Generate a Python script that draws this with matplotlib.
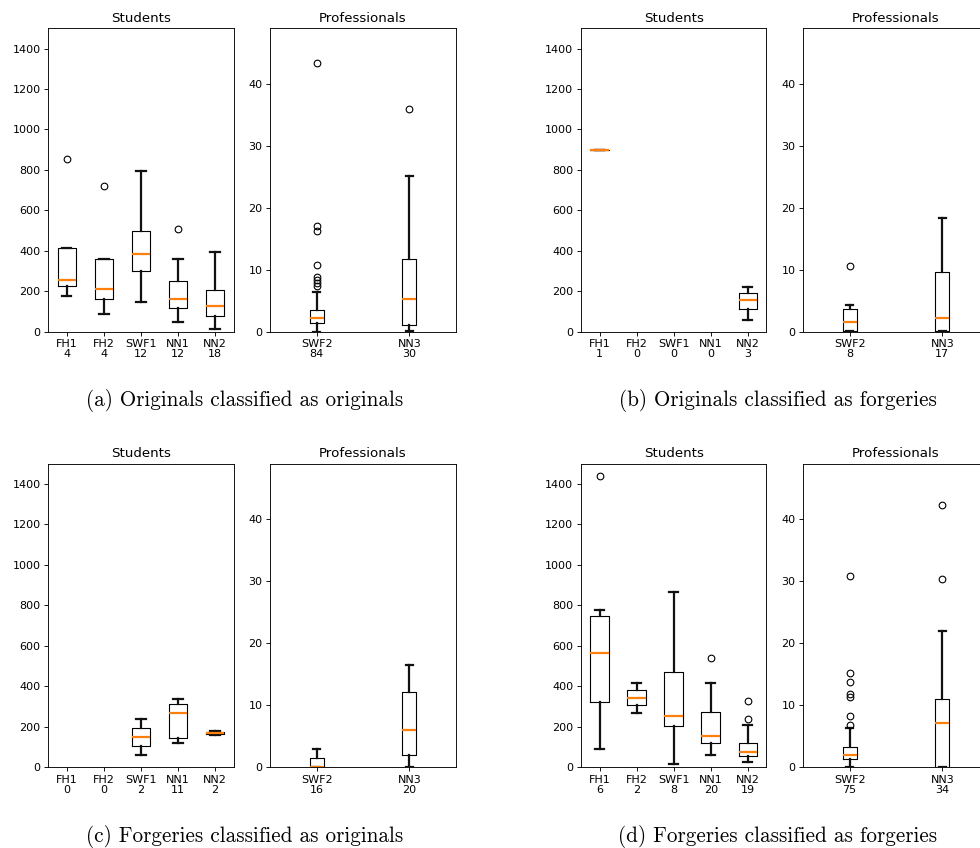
import matplotlib
matplotlib.use("Agg")
import matplotlib.pyplot as plt

students = ["FH1", "FH2", "SWF1", "NN1", "NN2"]
professionals = ["SWF2", "NN3"]

# (a) Originals classified as originals
a_stu_count = [4, 4, 12, 12, 18]
a_stu_med = [257, 212, 384, 163, 128]
a_stu_q1 = [226, 161, 300, 117, 77]
a_stu_q3 = [415, 361, 499, 250, 208]
a_stu_lo = [178, 89, 147, 48, 13]
a_stu_hi = [415, 361, 794, 361, 394]
a_stu_fliers = [[855], [720], [], [509], []]

a_pro_count = [84, 30]
a_pro_med = [2.26, 5.3]
a_pro_q1 = [1.45, 1.1]
a_pro_q3 = [3.5, 11.7]
a_pro_lo = [0.0, 0.1]
a_pro_hi = [6.45, 25.2]
a_pro_fliers = [[43.4, 17.1, 16.3, 10.7, 8.9, 8.3, 7.8, 7.3], [36.0]]

# (b) Originals classified as forgeries
b_stu_count = [1, 0, 0, 0, 3]
b_stu_med = [899, None, None, None, 158]
b_stu_q1 = [899, None, None, None, 110]
b_stu_q3 = [899, None, None, None, 189]
b_stu_lo = [899, None, None, None, 58]
b_stu_hi = [899, None, None, None, 222]
b_stu_fliers = [[], [], [], [], []]

b_pro_count = [8, 17]
b_pro_med = [1.56, 2.26]
b_pro_q1 = [0.16, 0.1]
b_pro_q3 = [3.6, 9.7]
b_pro_lo = [0.1, 0.05]
b_pro_hi = [4.25, 18.3]
b_pro_fliers = [[10.6], []]

# (c) Forgeries classified as originals
c_stu_count = [0, 0, 2, 11, 2]
c_stu_med = [None, None, 152, 270, 170]
c_stu_q1 = [None, None, 105, 143, 165]
c_stu_q3 = [None, None, 194, 313, 175]
c_stu_lo = [None, None, 63, 122, 161]
c_stu_hi = [None, None, 240, 339, 181]
c_stu_fliers = [[], [], [], [], []]

c_pro_count = [16, 20]
c_pro_med = [0.1, 6.0]
c_pro_q1 = [0.1, 2.0]
c_pro_q3 = [1.45, 12.2]
c_pro_lo = [0.05, 0.1]
c_pro_hi = [3.0, 16.5]
c_pro_fliers = [[], []]

# (d) Forgeries classified as forgeries
d_stu_count = [6, 2, 8, 20, 19]
d_stu_med = [567, 343, 254, 156, 76]
d_stu_q1 = [321, 306, 203, 119, 56]
d_stu_q3 = [746, 382, 471, 272, 119]
d_stu_lo = [91, 268, 18, 61, 26]
d_stu_hi = [777, 418, 866, 417, 209]
d_stu_fliers = [[1440], [], [], [539], [329, 240]]

d_pro_count = [75, 34]
d_pro_med = [2.0, 7.15]
d_pro_q1 = [1.3, 0.1]
d_pro_q3 = [3.3, 11.1]
d_pro_lo = [0.1, 0.05]
d_pro_hi = [6.4, 22.0]
d_pro_fliers = [[30.9, 15.2, 13.7, 11.9, 11.4, 8.2, 6.8], [42.4, 30.4]]

captions = ["(a) Originals classified as originals",
            "(b) Originals classified as forgeries",
            "(c) Forgeries classified as originals",
            "(d) Forgeries classified as forgeries"]


def make_stats(med, q1, q3, lo, hi, fliers):
    stats, pos = [], []
    for i, m in enumerate(med):
        if m is None:
            continue
        stats.append(dict(med=m, q1=q1[i], q3=q3[i], whislo=lo[i],
                          whishi=hi[i], fliers=fliers[i]))
        pos.append(i + 1)
    return stats, pos


def draw_panel(ax, names, counts, data, width, ylim, yticks, title):
    stats, pos = make_stats(*data)
    ax.bxp(stats, positions=pos, widths=width, manage_ticks=False,
           boxprops=dict(color="black", linewidth=1.0),
           whiskerprops=dict(color="#111111", linewidth=2.0),
           capprops=dict(color="#111111", linewidth=2.0),
           medianprops=dict(color="#ff7f0e", linewidth=2.0),
           flierprops=dict(marker="o", markerfacecolor="none",
                           markeredgecolor="black", markersize=6,
                           markeredgewidth=1.0))
    ax.set_xlim(0.5, len(names) + 0.5)
    ax.set_xticks(range(1, len(names) + 1))
    ax.set_xticklabels([f"{n}\n{c}" for n, c in zip(names, counts)],
                       linespacing=1.0)
    ax.set_ylim(*ylim)
    ax.set_yticks(yticks)
    ax.set_title(title, fontsize=12)
    ax.tick_params(labelsize=10)


plt.rcParams["font.family"] = "DejaVu Sans"
fig = plt.figure(figsize=(980 / 80, 848 / 80), dpi=80)

W, H = 980.0, 848.0
rows = [(28.3, 331.7), (463.7, 767.3)]
cols = [(48.3, 270.3), (581.0, 803.3)]
ax_w = 185.3

subfigs = [
    ((a_stu_count, (a_stu_med, a_stu_q1, a_stu_q3, a_stu_lo, a_stu_hi, a_stu_fliers)),
     (a_pro_count, (a_pro_med, a_pro_q1, a_pro_q3, a_pro_lo, a_pro_hi, a_pro_fliers))),
    ((b_stu_count, (b_stu_med, b_stu_q1, b_stu_q3, b_stu_lo, b_stu_hi, b_stu_fliers)),
     (b_pro_count, (b_pro_med, b_pro_q1, b_pro_q3, b_pro_lo, b_pro_hi, b_pro_fliers))),
    ((c_stu_count, (c_stu_med, c_stu_q1, c_stu_q3, c_stu_lo, c_stu_hi, c_stu_fliers)),
     (c_pro_count, (c_pro_med, c_pro_q1, c_pro_q3, c_pro_lo, c_pro_hi, c_pro_fliers))),
    ((d_stu_count, (d_stu_med, d_stu_q1, d_stu_q3, d_stu_lo, d_stu_hi, d_stu_fliers)),
     (d_pro_count, (d_pro_med, d_pro_q1, d_pro_q3, d_pro_lo, d_pro_hi, d_pro_fliers))),
]

caption_x = [245, 777.7]
caption_y = [400, 836]

for k, (stu, pro) in enumerate(subfigs):
    top, bottom = rows[k // 2]
    left_s, left_p = cols[k % 2]
    b = 1 - bottom / H
    h = (bottom - top) / H
    ax_s = fig.add_axes([left_s / W, b, ax_w / W, h])
    ax_p = fig.add_axes([left_p / W, b, ax_w / W, h])
    draw_panel(ax_s, students, stu[0], stu[1], 0.5, (0, 1500),
               range(0, 1401, 200), "Students")
    draw_panel(ax_p, professionals, pro[0], pro[1], 0.15, (0, 49),
               range(0, 41, 10), "Professionals")
    fig.text(caption_x[k % 2] / W, 1 - caption_y[k // 2] / H, captions[k],
             ha="center", va="center", fontsize=19, family="cmr10")

fig.savefig("out.png", dpi=80)
